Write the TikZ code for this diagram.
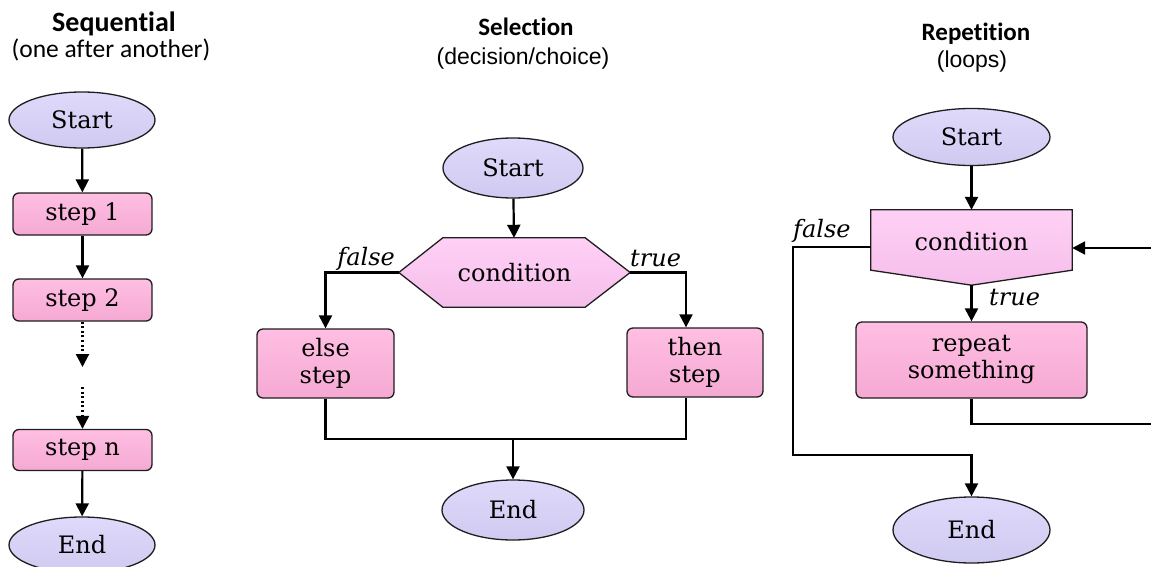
\documentclass[tikz,border=0pt]{standalone}
\usepackage{fontspec}
\setmainfont{DejaVu Serif}
\newfontfamily\titlefont[Ligatures=NoCommon]{Carlito}
\newfontfamily\subfont{Liberation Sans}
\usetikzlibrary{arrows.meta,calc,shapes.geometric}

\definecolor{termfill}{RGB}{216,210,250}
\definecolor{procfill}{RGB}{255,176,220}
\definecolor{decfill}{RGB}{255,198,244}
\definecolor{edge}{RGB}{30,30,30}

\tikzset{
  boxfont/.style={font=\fontsize{24}{27}\selectfont},
  terminal/.style={ellipse, draw=edge, line width=1.3pt, inner sep=0pt,
    top color=termfill!82!white, middle color=termfill, bottom color=termfill!96!black,
    boxfont},
  process/.style={rectangle, rounded corners=6pt, draw=edge, line width=1.3pt,
    inner sep=0pt, align=center,
    top color=procfill!82!white, middle color=procfill, bottom color=procfill!96!black,
    boxfont},
  decision/.style={rectangle, inner sep=0pt, boxfont},
  decshape/.style={draw=edge, line width=1.3pt, line join=miter,
    top color=decfill!82!white, middle color=decfill, bottom color=decfill!96!black},
  flow/.style={line width=2.2pt, draw=black},
  arr/.style={flow, -{Triangle[length=13pt,width=13pt]}},
  dotarr/.style={arr, dash pattern=on 2pt off 2.6pt},
  branch/.style={font=\fontsize{24}{27}\selectfont\itshape, inner sep=0pt},
  headline/.style={font=\titlefont\bfseries\fontsize{25}{30}\selectfont, inner sep=0pt},
  subline/.style={font=\subfont\fontsize{23}{28}\selectfont, inner sep=0pt}
}

\begin{document}
\begin{tikzpicture}[x=1pt, y=-1pt]
\useasboundingbox (0,0) rectangle (1151,567);

% ---------- Sequential ----------
\node[headline, anchor=base, font=\titlefont\bfseries\fontsize{28}{30}\selectfont] (seqT) at (114,32) {Sequential};
\node[subline, anchor=base, font=\titlefont\fontsize{25.5}{28}\selectfont] (seqS) at (111,58) {(one after another)};

\node[terminal, minimum width=146pt, minimum height=56pt] (s1) at (82,120) {Start};
\node[process, minimum width=139pt, minimum height=42pt] (s2) at (82.5,214) {step 1};
\node[process, minimum width=139pt, minimum height=42pt] (s3) at (82.5,300) {step 2};
\node[process, minimum width=139pt, minimum height=41pt] (s4) at (82.5,450) {step n};
\node[terminal, minimum width=146pt, minimum height=56pt] (s5) at (82,545) {End};
\coordinate (gapA) at (82.5,367);
\coordinate (gapB) at (82.5,387);

\draw[arr] (s1) -- (s2);
\draw[arr] (s2) -- (s3);
\draw[dotarr] (s3) -- (gapA);
\draw[dotarr] (gapB) -- (s4);
\draw[arr] (s4) -- (s5);

% ---------- Selection ----------
\node[headline, anchor=base] (selT) at (526,36) {Selection};
\node[subline, anchor=base] (selS) at (523,65) {(decision/choice)};

\node[terminal, minimum width=140pt, minimum height=60pt] (e1) at (513,168) {Start};
\node[decision, minimum width=231pt, minimum height=69pt] (cond) at (514.5,272.5) {};
\path[decshape] (cond.west) -- ($(cond.north west)+(44,0)$) -- ($(cond.north east)+(-45,0)$)
  -- (cond.east) -- ($(cond.south east)+(-45,0)$) -- ($(cond.south west)+(44,0)$) -- cycle;
\node[boxfont] at (cond) {condition};
\node[process, minimum width=137pt, minimum height=69pt] (els) at (325.5,363.5) {else\\step};
\node[process, minimum width=136pt, minimum height=69pt] (thn) at (695,362.5) {then\\step};
\node[terminal, minimum width=142pt, minimum height=60pt] (e2) at (513,510) {End};
\coordinate (sjoin) at (513,439);

\node[branch, anchor=base east] (fl1) at (395,265) {false};
\node[branch, anchor=base west] (tr1) at (630,266) {true};

\draw[arr] (e1) -- (cond);
\draw[arr] (cond.west) -| (els.north);
\draw[arr] (cond.east) -| ($(thn.north)+(-9,0)$);
\draw[flow] (els.south) |- (sjoin) -| ($(thn.south)+(-9,0)$);
\draw[arr] (sjoin) -- (e2);

% ---------- Repetition ----------
\node[headline, anchor=base] (repT) at (976,41) {Repetition};
\node[subline, anchor=base] (repS) at (972,68) {(loops)};

\node[terminal, minimum width=157pt, minimum height=57pt] (r1) at (971.5,137) {Start};
\node[decision, minimum width=201pt, minimum height=60pt] (loopc) at (971.5,240) {};
\coordinate (tip) at ($(loopc.south)+(0,15)$);
\path[decshape] (loopc.north west) -- (loopc.north east) -- (loopc.south east)
  -- (tip) -- (loopc.south west) -- cycle;
\node[boxfont] at ($(loopc)+(0,2)$) {condition};
\node[process, minimum width=231pt, minimum height=76pt] (body) at (971.5,360) {repeat\\something};
\node[terminal, minimum width=157pt, minimum height=66pt] (r2) at (971.5,530) {End};

\node[branch, anchor=base west] (fl2) at (793,237) {false};
\node[branch, anchor=base west] (tr2) at (989,305) {true};

\coordinate (exitL) at (793,455);
\coordinate (backA) at (1160,424);
\coordinate (backB) at (1160,248);

\draw[arr] (r1) -- (loopc);
\draw[arr] (tip) -- (body);
\draw[arr] ($(loopc.west)+(0,7)$) -| (exitL) -| (r2.north);
\draw[arr] (body.south) |- (backA) -- (backB) -- ($(loopc.east)+(0,8)$);
\end{tikzpicture}
\end{document}
